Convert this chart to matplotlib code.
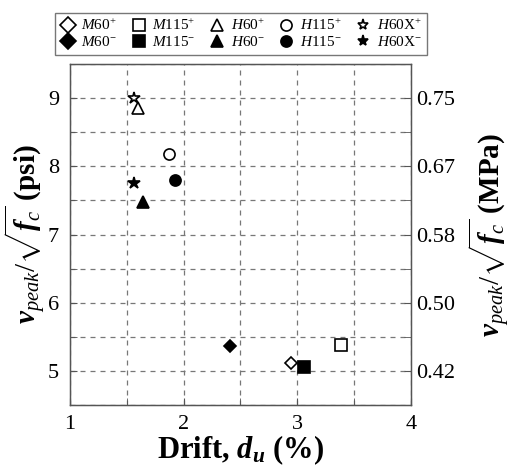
import matplotlib
matplotlib.use("Agg")
import matplotlib.pyplot as plt
from matplotlib.ticker import MultipleLocator

plt.rcParams['font.family'] = ['Liberation Serif', 'DejaVu Serif']
plt.rcParams['mathtext.fontset'] = 'custom'
plt.rcParams['mathtext.rm'] = 'Liberation Serif'
plt.rcParams['mathtext.it'] = 'Liberation Serif:italic'
plt.rcParams['mathtext.bf'] = 'Liberation Serif:bold'
plt.rcParams['mathtext.bfit'] = 'Liberation Serif:italic:bold'

# Data: drift (%) and normalized peak shear stress (psi units)
labels = ["M60+", "M60-", "M115+", "M115-", "H60+", "H60-", "H115+", "H115-", "H60X+", "H60X-"]
legend_texts = [r"$\mathit{M60}^{+}$", r"$\mathit{M60}^{-}$",
                r"$\mathit{M115}^{+}$", r"$\mathit{M115}^{-}$",
                r"$\mathit{H60}^{+}$", r"$\mathit{H60}^{-}$",
                r"$\mathit{H115}^{+}$", r"$\mathit{H115}^{-}$",
                r"$\mathit{H60}$X$^{+}$", r"$\mathit{H60}$X$^{-}$"]
drift = [2.94, 2.41, 3.38, 3.06, 1.60, 1.64, 1.87, 1.92, 1.56, 1.56]
vpeak = [5.12, 5.36, 5.38, 5.06, 8.85, 7.47, 8.18, 7.80, 9.00, 7.75]
markers = ["D", "D", "s", "s", "^", "^", "o", "o", "*", "*"]
filled = [False, True, False, True, False, True, False, True, False, True]
msizes = [6, 6, 8, 8, 8, 8, 8, 8, 9, 9]

psi_ticks = [5, 6, 7, 8, 9]
mpa_tick_labels = ["0.42", "0.50", "0.58", "0.67", "0.75"]
x_ticks = [1, 2, 3, 4]

fig = plt.figure(figsize=(5.22, 4.70), dpi=100)
ax = fig.add_axes([70/522, 1-405/470, (411-70)/522, (405-64)/470])

handles = []
for i in range(len(labels)):
    h, = ax.plot([drift[i]], [vpeak[i]], linestyle='none', marker=markers[i],
                 markersize=msizes[i], markeredgecolor='black',
                 markerfacecolor='black' if filled[i] else 'white',
                 markeredgewidth=1.2, zorder=3)
    handles.append(h)

ax.set_xlim(1, 4)
ax.set_ylim(4.5, 9.5)
ax.set_xticks(x_ticks)
ax.set_yticks(psi_ticks)
ax.xaxis.set_minor_locator(MultipleLocator(0.5))
ax.yaxis.set_minor_locator(MultipleLocator(0.5))
ax.grid(True, which='both', linestyle=(0, (4, 4)), color='#777777', linewidth=0.9)
ax.tick_params(which='both', direction='in', labelsize=16, color='#555555', length=5)
ax.tick_params(axis='y', pad=8)
ax.tick_params(axis='x', pad=7)
for s in ax.spines.values():
    s.set_color('#555555')
    s.set_linewidth(1.0)

ax.set_xlabel(r"Drift, $\mathbfit{d}_{\mathbfit{u}}$ (%)", fontsize=22, fontweight='bold', labelpad=0)
ax.set_ylabel(r"$\mathbfit{v}_{\mathit{peak}}/\sqrt{\mathbfit{f}_{\mathit{c}}}$ (psi)", fontsize=21,
              fontweight='bold', labelpad=0)

ax2 = ax.twinx()
ax2.set_ylim(ax.get_ylim())
ax2.set_yticks(psi_ticks)
ax2.set_yticklabels(mpa_tick_labels)
ax2.yaxis.set_minor_locator(MultipleLocator(0.5))
ax2.tick_params(which='both', direction='in', labelsize=16, color='#555555', length=5, pad=4)
for s in ax2.spines.values():
    s.set_color('#555555')
ax2.set_ylabel(r"$\mathbfit{v}_{\mathit{peak}}/\sqrt{\mathbfit{f}_{\mathit{c}}}$ (MPa)", fontsize=21,
               fontweight='bold', rotation=90, labelpad=8)

leg = fig.legend(handles, legend_texts, loc='upper center', bbox_to_anchor=(241/522, 1-5/470),
                 ncol=5, fontsize=11, frameon=True, fancybox=False, edgecolor='#555555',
                 handletextpad=0.4, columnspacing=0.9, handlelength=1.0, borderpad=0.35,
                 labelspacing=0.15)
leg.get_frame().set_linewidth(1.0)
for h in leg.legend_handles:
    h.set_markersize(8)

fig.savefig("out.png", dpi=100)
